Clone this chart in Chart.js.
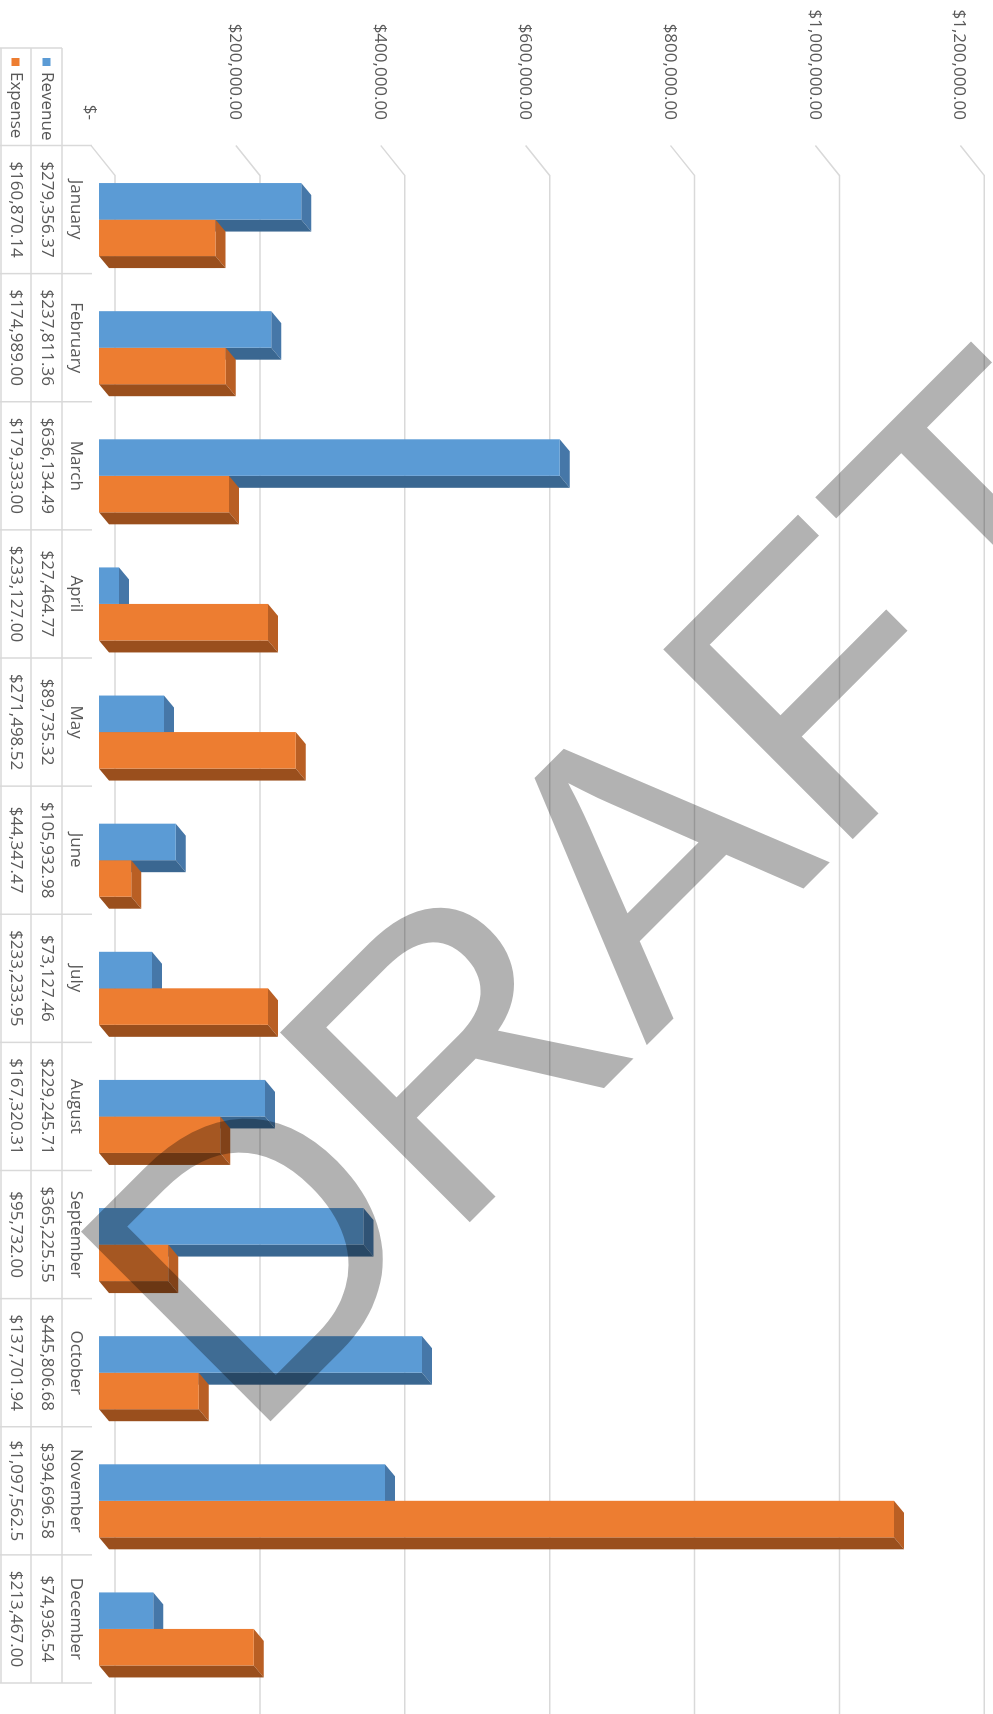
<!DOCTYPE html>
<html lang="en">
<head>
    <meta charset="UTF-8">
    <title>Revenue and Expense</title>
    <style>
        html, body {
            margin: 0;
            padding: 0;
            background: #fff;
            overflow: hidden;
            width: 993px;
            height: 1714px;
        }
        /* the chart is laid out as a column chart and turned a quarter clockwise */
        .turn {
            position: absolute;
            left: 0;
            top: 0;
            width: 1714px;
            height: 993px;
            transform-origin: 0 0;
            transform: translate(993px, 0) rotate(90deg);
        }
        canvas { display: block; }
    </style>
</head>
<body>
    <div class="turn"><canvas id="myChart" width="1714" height="993"></canvas></div>

    <script src="https://cdn.jsdelivr.net/npm/chart.js"></script>
    <script>
        const months = ['January', 'February', 'March', 'April', 'May', 'June',
            'July', 'August', 'September', 'October', 'November', 'December'];
        const revenue = [279356.37, 237811.36, 636134.49, 27464.77, 89735.32, 105932.98,
            73127.46, 229245.71, 365225.55, 445806.68, 394696.58, 74936.54];
        const expense = [160870.14, 174989.00, 179333.00, 233127.00, 271498.52, 44347.47,
            233233.95, 167320.31, 95732.00, 137701.94, 1097562.5, 213467.00];
        const tickLabels = ['$-', '$200,000.00', '$400,000.00', '$600,000.00',
            '$800,000.00', '$1,000,000.00', '$1,200,000.00'];

        const font = '17px "Open Sans"';
        const textColor = '#595959';
        const lineColor = '#d9d9d9';

        // 3d look
        const depthX = 12, depthY = 10;   // depth of a bar
        const barShift = 10;              // bars stand a bit back on the floor
        const wallShift = 16;             // back wall behind the front plane

        function poly(ctx, pts) {
            ctx.beginPath();
            ctx.moveTo(pts[0][0], pts[0][1]);
            for (let i = 1; i < pts.length; i++) ctx.lineTo(pts[i][0], pts[i][1]);
            ctx.closePath();
            ctx.fill();
        }

        function money(v) {
            return '$' + v.toLocaleString('en-US', {minimumFractionDigits: 2, maximumFractionDigits: 2});
        }

        const chart3d = {
            id: 'chart3d',
            beforeDatasetsDraw(chart) {
                const ctx = chart.ctx;
                const y = chart.scales.y;
                const area = chart.chartArea;

                // gridlines on the back wall, with the floor edge
                ctx.save();
                ctx.strokeStyle = lineColor;
                ctx.lineWidth = 1.5;
                y.ticks.forEach(t => {
                    const py = y.getPixelForValue(t.value) - wallShift;
                    ctx.beginPath();
                    ctx.moveTo(area.left, py + 24);
                    ctx.lineTo(area.left + 30, py);
                    ctx.lineTo(chart.width, py);
                    ctx.stroke();
                });
                ctx.restore();

                ctx.save();
                ctx.translate(barShift, 0);
                chart.data.datasets.forEach((ds, i) => {
                    chart.getDatasetMeta(i).data.forEach(bar => {
                        const p = bar.getProps(['x', 'y', 'base', 'width'], true);
                        const l = p.x - p.width / 2, r = p.x + p.width / 2;
                        ctx.fillStyle = ds.topColor;
                        poly(ctx, [[l, p.y], [r, p.y], [r + depthX, p.y - depthY], [l + depthX, p.y - depthY]]);
                        ctx.fillStyle = ds.sideColor;
                        poly(ctx, [[r, p.y], [r, p.base], [r + depthX, p.base - depthY], [r + depthX, p.y - depthY]]);
                    });
                });
            },
            afterDatasetsDraw(chart) {
                chart.ctx.restore();
            },
            afterDraw(chart) {
                const ctx = chart.ctx;
                const x = chart.scales.x;
                const n = months.length;
                const w = (x.right - x.left) / n;
                const rowTop = 901, rowRev = 931, rowExp = 962, rowEnd = 993, headLeft = 48;

                // data table
                ctx.save();
                ctx.strokeStyle = lineColor;
                ctx.lineWidth = 1.5;
                ctx.beginPath();
                for (let i = 0; i <= n; i++) {
                    const px = x.left + i * w;
                    ctx.moveTo(px, rowTop);
                    ctx.lineTo(px, rowEnd);
                }
                [rowRev, rowExp, rowEnd - 1].forEach(py => {
                    ctx.moveTo(headLeft, py);
                    ctx.lineTo(x.right, py);
                });
                ctx.moveTo(headLeft, rowRev);
                ctx.lineTo(headLeft, rowEnd);
                ctx.stroke();

                ctx.font = font;
                ctx.fillStyle = textColor;
                ctx.textAlign = 'center';
                ctx.textBaseline = 'middle';
                months.forEach((m, i) => {
                    const cx = x.getPixelForValue(i);
                    ctx.fillText(m, cx, (rowTop + rowRev) / 2 + 1);
                    [revenue[i], expense[i]].forEach((v, k) => {
                        let s = money(v);
                        if (ctx.measureText(s).width > w - 20) s = s.slice(0, -1);
                        ctx.fillText(s, cx, k === 0 ? (rowRev + rowExp) / 2 : (rowExp + rowEnd) / 2);
                    });
                });

                // legend keys in the table header
                chart.data.datasets.forEach((ds, k) => {
                    const cy = k === 0 ? (rowRev + rowExp) / 2 : (rowExp + rowEnd) / 2;
                    ctx.fillStyle = ds.backgroundColor;
                    ctx.fillRect(58, cy - 4, 8, 8);
                    ctx.fillStyle = textColor;
                    ctx.textAlign = 'left';
                    ctx.fillText(ds.label, 72, cy);
                });
                ctx.restore();

                // watermark
                ctx.save();
                ctx.translate(1444, 745);
                ctx.rotate(-135 * Math.PI / 180);
                ctx.font = '390px "Liberation Sans"';
                ctx.fillStyle = 'rgba(0, 0, 0, 0.3)';
                ctx.textBaseline = 'alphabetic';
                ctx.fillText('DRAFT', 0, 0);
                ctx.restore();
            }
        };

        const ctx = document.getElementById('myChart').getContext('2d');
        new Chart(ctx, {
            type: 'bar',
            data: {
                labels: months,
                datasets: [{
                    label: 'Revenue',
                    data: revenue,
                    backgroundColor: '#5b9bd5',
                    topColor: '#4677a8',
                    sideColor: '#3a6791'
                }, {
                    label: 'Expense',
                    data: expense,
                    backgroundColor: '#ed7d31',
                    topColor: '#b95f24',
                    sideColor: '#9a4f1d'
                }]
            },
            options: {
                responsive: false,
                animation: false,
                devicePixelRatio: 1,
                categoryPercentage: 0.57,
                barPercentage: 1,
                layout: {
                    padding: {left: 0, top: 24.7, right: 31, bottom: 99}
                },
                plugins: {
                    legend: {display: false},
                    tooltip: {enabled: false}
                },
                scales: {
                    x: {
                        display: false
                    },
                    y: {
                        min: 0,
                        max: 1200000,
                        ticks: {
                            stepSize: 200000,
                            padding: 25.5,
                            labelOffset: 9,
                            font: {family: 'Open Sans', size: 17},
                            color: textColor,
                            callback: (v, i) => tickLabels[i]
                        },
                        grid: {display: false, drawTicks: false, tickLength: 0},
                        border: {display: false},
                        afterFit: scale => {
                            scale.width = 145.5;
                            scale.paddingTop = 0;
                        }
                    }
                }
            },
            plugins: [chart3d]
        });
    </script>
</body>
</html>
